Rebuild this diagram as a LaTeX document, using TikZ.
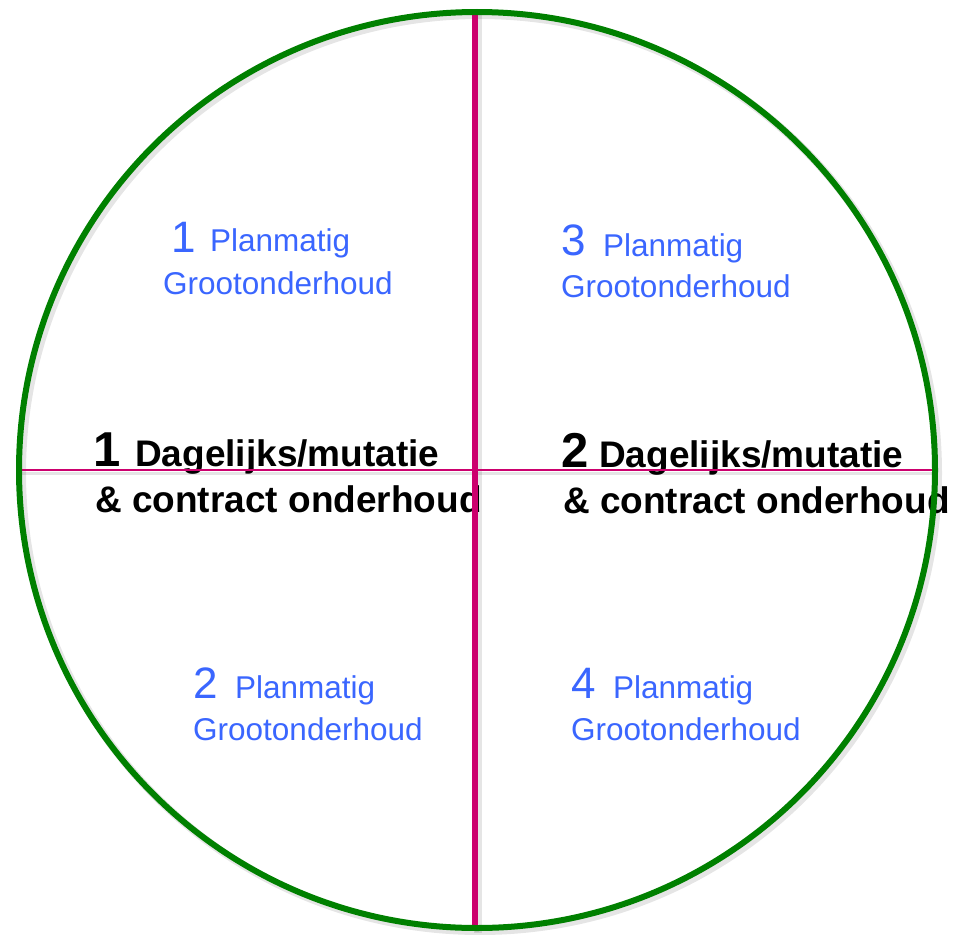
\documentclass[tikz,border=0pt]{standalone}
\usepackage{fontspec}
\setmainfont{Liberation Sans}
\definecolor{ringgreen}{RGB}{0,128,0}
\definecolor{axismagenta}{RGB}{204,0,110}
\definecolor{planblue}{RGB}{58,102,255}
\begin{document}
\begin{tikzpicture}[x=1pt,y=-1pt,
  lbl/.style={inner sep=0pt,anchor=base west},
  bluedigit/.style={lbl,text=planblue,font=\fontsize{44}{50}\selectfont},
  bluetext/.style={lbl,text=planblue,font=\fontsize{31.5}{36}\selectfont},
  blackdigit/.style={lbl,text=black,font=\bfseries\fontsize{49}{56}\selectfont},
  blacktext/.style={lbl,text=black,font=\bfseries\fontsize{37}{44}\selectfont},
  ring/.style={draw=ringgreen,line width=6pt},
  mainaxis/.style={draw=axismagenta,line width=6pt},
  crossaxis/.style={draw=axismagenta,line width=1.4pt},
  shade/.style={draw=black,opacity=0.10}]
\useasboundingbox (0,0) rectangle (955,934);
\fill[white] (0,0) rectangle (955,934);

% quadrant labels: planned major maintenance
\node[bluedigit] (d1) at (171,252) {1};
\node[bluetext]  (p1) at (210,251) {Planmatig};
\node[bluetext]  (g1) at (163,294) {Grootonderhoud};

\node[bluedigit] (d3) at (561,255) {3};
\node[bluetext]  (p3) at (603,256) {Planmatig};
\node[bluetext]  (g3) at (561,297) {Grootonderhoud};

\node[bluedigit] (d2) at (193,698) {2};
\node[bluetext]  (p2) at (235,698) {Planmatig};
\node[bluetext]  (g2) at (193,740) {Grootonderhoud};

\node[bluedigit] (d4) at (571,698) {4};
\node[bluetext]  (p4) at (613,698) {Planmatig};
\node[bluetext]  (g4) at (571,740) {Grootonderhoud};

% centre labels: daily / contract maintenance
\node[blackdigit] (b1) at (93,466) {1};
\node[blacktext]  (t1) at (135,466) {Dagelijks/mutatie};
\node[blacktext]  (c1) at (95,512) {\& contract onderhoud};

\node[blackdigit] (b2) at (561,467) {2};
\node[blacktext]  (t2) at (599,467) {Dagelijks/mutatie};
\node[blacktext]  (c2) at (563,513) {\& contract onderhoud};

% circle and axes with a soft shadow
\coordinate (centre) at (477,470);
\coordinate (vtop) at (475,10);
\coordinate (vbot) at (475,930);
\coordinate (hleft) at (17,470);
\coordinate (hright) at (934,470);

\draw[shade,line width=8pt] ([shift={(3,3)}]centre) circle (458);
\draw[shade,line width=8pt] ([shift={(3,3)}]vtop) -- ([shift={(3,3)}]vbot);
\draw[shade,line width=3pt] ([shift={(2,3)}]hleft) -- ([shift={(2,3)}]hright);

\draw[crossaxis] (hleft) -- (hright);
\draw[mainaxis] (vtop) -- (vbot);
\draw[ring] (centre) circle (458);
\end{tikzpicture}
\end{document}
